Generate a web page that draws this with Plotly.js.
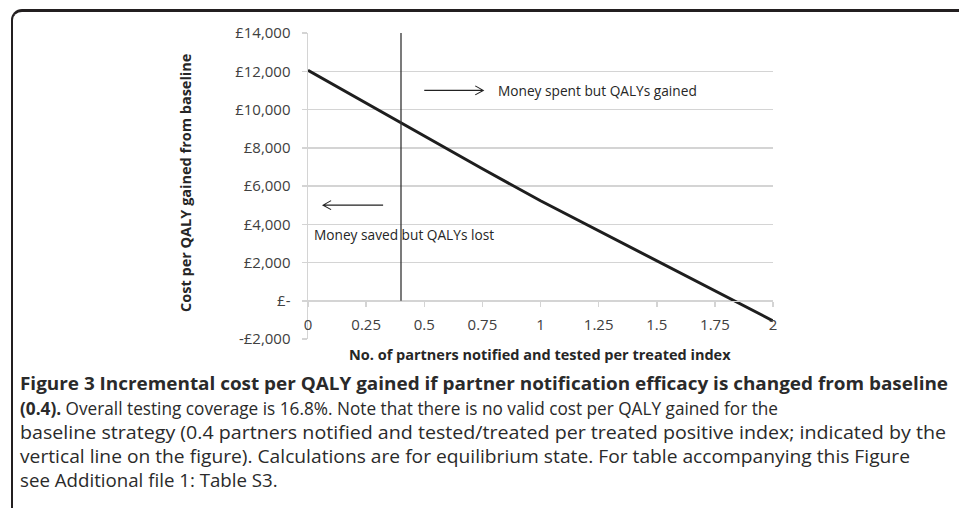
<!DOCTYPE html>
<html><head><meta charset="utf-8">
<script src="https://cdn.plot.ly/plotly-3.0.1.min.js"></script>
<style>
html,body{margin:0;padding:0;background:#fff;overflow:hidden;}
#frame{position:absolute;left:11px;top:9px;width:1000px;height:600px;border-top:3px solid #231f20;border-left:2px solid #231f20;border-top-left-radius:11px;}
#chart{position:absolute;left:0;top:0;width:959px;height:508px;}
</style></head><body>
<div id="frame"></div>
<div id="chart"></div>
<script>
// Data
const partnersX = [0, 0.25, 0.5, 0.75, 1, 1.25, 1.5, 1.75, 2];
const costPerQaly = [12050, 10330, 8600, 6900, 5230, 3660, 2090, 520, -1050];
const baselineX = 0.4;
const baselineLineY = [0, 14000];
const yTickVals = [-2000, 0, 2000, 4000, 6000, 8000, 10000, 12000, 14000];
const yTickText = ['-£2,000', '£-', '£2,000', '£4,000', '£6,000', '£8,000', '£10,000', '£12,000', '£14,000'];
const xTickVals = [0, 0.25, 0.5, 0.75, 1, 1.25, 1.5, 1.75, 2];
const xTickText = ['0', '0.25', '0.5', '0.75', '1', '1.25', '1.5', '1.75', '2'];
const yTitle = 'Cost per QALY gained from baseline';
const xTitle = 'No. of partners notified and tested per treated index';
const noteRight = 'Money spent but QALYs gained';
const noteLeft = 'Money saved but QALYs lost';
const captionLines = [
  '<b>Figure 3 Incremental cost per QALY gained if partner notification efficacy is changed from baseline</b>',
  '<b>(0.4).</b> Overall testing coverage is 16.8%. Note that there is no valid cost per QALY gained for the',
  'baseline strategy (0.4 partners notified and tested/treated per treated positive index; indicated by the',
  'vertical line on the figure). Calculations are for equilibrium state. For table accompanying this Figure',
  'see Additional file 1: Table S3.'
];

// Layout geometry (pixels)
const W = 959, H = 508;
const L = 308, R = 773, T = 33, B = 339;
const px = p => (p - L) / (R - L);
const py = p => (B - p) / (B - T);

const grid = '#d4d4d4';
const axisFont = {family: 'Open Sans, sans-serif', size: 15, color: '#404040'};
const titleFont = {family: 'Open Sans, sans-serif', size: 14.5, color: '#262626'};
const noteFont = {family: 'Open Sans, sans-serif', size: 13.7, color: '#262626'};
const capFont = {family: 'Open Sans, sans-serif', size: 18.5, color: '#2a2a2a'};

const traces = [
  {x: partnersX, y: costPerQaly, type: 'scatter', mode: 'lines',
   line: {color: '#1e1e1e', width: 3}, hoverinfo: 'skip'},
  {x: [baselineX, baselineX], y: baselineLineY, type: 'scatter', mode: 'lines',
   line: {color: '#333333', width: 1.3}, hoverinfo: 'skip'}
];

const annotations = [
  {xref: 'paper', yref: 'paper', x: px(185), y: py(183), text: '<b>' + yTitle + '</b>',
   textangle: -90, showarrow: false, font: titleFont, xanchor: 'center', yanchor: 'middle'},
  {xref: 'paper', yref: 'paper', x: px(540), y: py(354), text: '<b>' + xTitle + '</b>',
   showarrow: false, font: titleFont, xanchor: 'center', yanchor: 'middle'},
  {xref: 'x', yref: 'y', x: 0.81, y: 11000, text: noteRight, showarrow: false,
   xanchor: 'left', yanchor: 'middle', font: noteFont},
  {xref: 'x', yref: 'y', x: 0.017, y: 3450, text: noteLeft, showarrow: false,
   xanchor: 'left', yanchor: 'middle', font: noteFont}
];
const capY = [382, 407, 431, 455, 479];
const capRight = [948, 778, 946, 910, null];
const capLeft = 20;
captionLines.forEach((t, i) => {
  annotations.push({xref: 'paper', yref: 'paper', x: px(capLeft - 1), y: py(capY[i]), text: t,
    showarrow: false, xanchor: 'left', yanchor: 'middle', align: 'left',
    borderpad: 0, font: capFont});
});

const shapes = [
  {type: 'path', xref: 'x', yref: 'y', xsizemode: 'pixel', ysizemode: 'pixel',
   xanchor: 0.5, yanchor: 11000, path: 'M0,0 L59,0 M51,4.5 L59,0 L51,-4.5',
   line: {color: '#222', width: 1.1}},
  {type: 'path', xref: 'x', yref: 'y', xsizemode: 'pixel', ysizemode: 'pixel',
   xanchor: 0.323, yanchor: 5000, path: 'M0,0 L-60,0 M-52,4.5 L-60,0 L-52,-4.5',
   line: {color: '#222', width: 1.1}}
];

const layout = {
  width: W, height: H,
  margin: {l: L, r: W - R, t: T, b: H - B, pad: 0},
  paper_bgcolor: 'rgba(0,0,0,0)', plot_bgcolor: 'rgba(0,0,0,0)',
  showlegend: false,
  xaxis: {range: [0, 2], tickvals: xTickVals, ticktext: xTickText,
    anchor: 'free', position: 2000 / 16000, showgrid: false, zeroline: false,
    showline: true, linecolor: grid, linewidth: 1.5, ticks: 'outside', ticklen: 5,
    tickcolor: grid, tickwidth: 1.5, tickfont: axisFont, ticklabelstandoff: 5, fixedrange: true},
  yaxis: {range: [-2000, 14000], tickvals: yTickVals, ticktext: yTickText,
    showgrid: true, gridcolor: grid, gridwidth: 1.5, zeroline: false,
    showline: true, linecolor: grid, linewidth: 1.5, ticks: 'outside', ticklen: 5,
    tickcolor: grid, tickwidth: 1.5, tickfont: axisFont, ticklabelstandoff: 8, fixedrange: true},
  annotations: annotations,
  shapes: shapes
};

Plotly.newPlot('chart', traces, layout, {displayModeBar: false, staticPlot: true}).then(gd => {
  // fit caption lines to the condensed widths of the original typesetting
  const els = captionLines.map((t, i) =>
    gd.querySelector('g.annotation[data-index="' + (4 + i) + '"] text.annotation-text'));
  const natural = els.map(el => el ? el.getComputedTextLength() : 0);
  let ratioSum = 0, n = 0;
  const ratios = capRight.map((r, i) => {
    if (r === null || !natural[i]) return null;
    const k = (r - capLeft) / natural[i];
    if (i >= 1) { ratioSum += k; n++; }
    return k;
  });
  const avg = n ? ratioSum / n : 1;
  els.forEach((el, i) => {
    if (!el) return;
    const k = ratios[i] !== null ? ratios[i] : avg;
    el.setAttribute('textLength', (natural[i] * k).toFixed(1));
    el.setAttribute('lengthAdjust', 'spacingAndGlyphs');
  });
});
</script>
</body></html>
